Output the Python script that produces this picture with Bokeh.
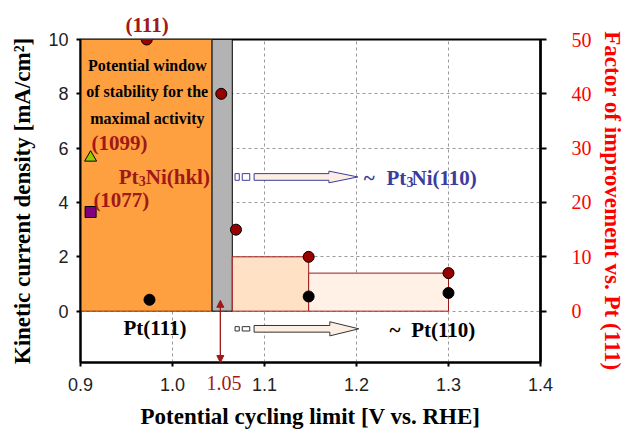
from bokeh.plotting import figure
from bokeh.models import (Range1d, LinearAxis, Label, Arrow, NormalHead, FixedTicker,
                          Title, PrintfTickFormatter)
from bokeh.embed import file_html
from bokeh.resources import INLINE

# ---------------- data ----------------
# Pt3Ni(111): factor of improvement vs. Pt(111) (right axis)
pt3ni_x = [0.972, 1.053, 1.069, 1.148, 1.300]
pt3ni_factor = [50, 40, 15, 10, 7]
# Pt(111): kinetic current density (left axis)
pt111_x = [0.975, 1.148, 1.300]
pt111_j = [0.42, 0.54, 0.67]
# Pt3Ni(1099) and Pt3Ni(1077)
pt3ni_1099_x = [0.911]
pt3ni_1099_j = [5.65]
pt3ni_1077_x = [0.911]
pt3ni_1077_j = [3.65]

# stability windows (factor units)
window_left = [0.900, 1.043, 1.065, 1.148]
window_right = [1.043, 1.065, 1.148, 1.300]
window_top_factor = [50, 50, 10, 7]
window_fill = ["#FFA040", "#B3B3B3", "#FFE2C6", "#FFF1E6"]
window_line = ["#8B2A00", "#000000", "#A01818", "#A01818"]

x_ticks = [0.9, 1.0, 1.1, 1.2, 1.3, 1.4]
j_ticks = [0, 2, 4, 6, 8, 10]
factor_ticks = [0, 10, 20, 30, 40, 50]
cycling_limit_tick = [1.056]
cycling_limit_text = "1.05"
cycling_limit_x = 1.052

DARKRED = "#A01818"
BLUE = "#3C3C9C"
SERIF = "Liberation Serif"
SANS = "Liberation Sans"

W, H = 627, 432
Y0, Y1 = -1.89, 10
p = figure(width=W, height=H,
           x_range=Range1d(0.9, 1.4), y_range=Range1d(Y0, Y1),
           output_backend="svg", toolbar_location=None,
           min_border_left=80, min_border_right=81,
           min_border_top=39, min_border_bottom=70)
p.extra_y_ranges = {"factor": Range1d(Y0 * 5, Y1 * 5)}
p.background_fill_color = "white"
p.border_fill_color = "white"
p.outline_line_color = "black"
p.outline_line_width = 2

# "(111)" label above the frame
p.add_layout(Title(text="(111)", align="left", offset=45, standoff=6,
                   text_font=SERIF, text_font_size="21px", text_font_style="bold",
                   text_color=DARKRED), "above")

# grid
p.xgrid.ticker = FixedTicker(ticks=[1.0, 1.1, 1.2, 1.3])
p.ygrid.ticker = FixedTicker(ticks=[0, 2, 4, 6, 8])
for g in (p.xgrid, p.ygrid):
    g.grid_line_color = "#9a9a9a"
    g.grid_line_dash = "3 3"
    g.grid_line_width = 1

# bottom axis
xa = p.xaxis[0]
xa.ticker = FixedTicker(ticks=x_ticks)
xa.formatter = PrintfTickFormatter(format="%.1f")
xa.axis_label = "Potential cycling limit [V vs. RHE]"
xa.axis_label_text_font = SERIF
xa.axis_label_text_font_style = "bold"
xa.axis_label_text_font_size = "23px"
xa.axis_label_text_color = "black"
xa.axis_label_standoff = 10
xa.major_label_text_font = SANS
xa.major_label_text_font_size = "18px"
xa.major_label_text_color = "#222222"
xa.major_label_standoff = 11
xa.major_tick_out = 4
xa.major_tick_in = 0
xa.minor_tick_out = 0
xa.minor_tick_in = 0
xa.axis_line_width = 2
xa.major_tick_line_width = 2

# extra "1.05" tick label: a second bottom axis pulled back up under the main one
la = LinearAxis(ticker=FixedTicker(ticks=cycling_limit_tick),
                major_label_overrides={cycling_limit_tick[0]: cycling_limit_text})
la.axis_line_color = None
la.major_tick_line_color = None
la.minor_tick_line_color = None
la.major_tick_out = 0
la.major_tick_in = 0
la.minor_tick_out = 0
la.minor_tick_in = 0
la.major_label_standoff = -56
la.major_label_text_font = SERIF
la.major_label_text_font_size = "20px"
la.major_label_text_color = DARKRED
p.add_layout(la, "below")

# left axis
ya = p.yaxis[0]
ya.ticker = FixedTicker(ticks=j_ticks)
ya.axis_label = "Kinetic current density [mA/cm²]"
ya.axis_label_text_font = SERIF
ya.axis_label_text_font_style = "bold"
ya.axis_label_text_font_size = "23px"
ya.axis_label_text_color = "black"
ya.axis_label_standoff = 10
ya.major_label_text_font = SANS
ya.major_label_text_font_size = "18px"
ya.major_label_text_color = "#222222"
ya.major_label_standoff = 8
ya.major_tick_out = 4
ya.major_tick_in = 0
ya.minor_tick_out = 0
ya.minor_tick_in = 0
ya.axis_line_width = 2
ya.major_tick_line_width = 2

# right axis
ra = LinearAxis(y_range_name="factor", ticker=FixedTicker(ticks=factor_ticks))
ra.axis_label = "Factor of improvement vs. Pt (111)"
ra.axis_label_text_font = SERIF
ra.axis_label_text_font_style = "bold"
ra.axis_label_text_font_size = "23px"
ra.axis_label_text_color = "#FF0000"
ra.axis_label_standoff = 5
ra.major_label_text_font = SERIF
ra.major_label_text_font_size = "20px"
ra.major_label_text_color = "#FF0000"
ra.major_label_standoff = 25
ra.major_tick_out = 6
ra.major_tick_in = 0
ra.minor_tick_out = 0
ra.minor_tick_in = 0
ra.axis_line_width = 2.5
ra.major_tick_line_width = 2
p.add_layout(ra, "right")

# windows
p.quad(left=window_left, right=window_right, bottom=0, top=window_top_factor,
       y_range_name="factor", fill_color=window_fill, line_color=window_line,
       line_width=1)


# block arrows
def block_arrow(x0, x1, yc, half_shaft, half_head, head_len, sq_half, line_color):
    sq = [(x0, x0 + 0.0046), (x0 + 0.0078, x0 + 0.016)]
    p.quad(left=[s[0] for s in sq], right=[s[1] for s in sq],
           bottom=yc - sq_half, top=yc + sq_half,
           fill_color="white", line_color=line_color, line_width=1)
    xs0 = x0 + 0.0207
    xh = x1 - head_len
    xs = [xs0, xh, xh, x1, xh, xh, xs0]
    ys = [yc - half_shaft, yc - half_shaft, yc - half_head, yc,
          yc + half_head, yc + half_shaft, yc + half_shaft]
    p.patch(xs, ys, fill_color="#FDEEE4", line_color=line_color, line_width=1)


block_arrow(1.068, 1.2015, 4.94, 0.123, 0.215, 0.0315, 0.123, BLUE)
block_arrow(1.068, 1.2025, -0.65, 0.123, 0.26, 0.0315, 0.08, "#333333")

# points
p.scatter(pt3ni_x, pt3ni_factor, y_range_name="factor", marker="circle",
          size=11, fill_color="#990000", line_color="black", line_width=1)
p.scatter(pt111_x, pt111_j, marker="circle", size=11,
          fill_color="black", line_color="black")
p.scatter(pt3ni_1099_x, pt3ni_1099_j, marker="triangle", size=12,
          fill_color="#99CC00", line_color="black", line_width=1)
p.scatter(pt3ni_1077_x, pt3ni_1077_j, marker="square", size=11,
          fill_color="#800080", line_color="black", line_width=1)

# vertical arrow at cycling limit
head = dict(size=7, fill_color=DARKRED, line_color=DARKRED)
p.add_layout(Arrow(x_start=cycling_limit_x, y_start=Y0,
                   x_end=cycling_limit_x, y_end=0.40,
                   start=NormalHead(**head), end=NormalHead(**head),
                   line_color=DARKRED, line_width=1.3))


def lab(x, y, text, color, size, align="left", x_offset=0, y_offset=0, bold=True):
    p.add_layout(Label(x=x, y=y, text=text, text_color=color,
                       text_font=SERIF, text_font_size=size,
                       text_font_style="bold" if bold else "normal",
                       text_align=align, text_baseline="alphabetic",
                       x_offset=x_offset, y_offset=y_offset + 5))


# window text
lab(0.9727, 8.87, "Potential window", "black", "16px", align="center")
lab(0.9727, 7.89, "of stability for the", "black", "16px", align="center")
lab(0.9727, 6.91, "maximal activity", "black", "16px", align="center")

lab(0.912, 5.99, "(1099)", DARKRED, "21px")
lab(0.914, 3.90, "(1077)", DARKRED, "21px")
lab(0.9416, 4.76, "Pt", DARKRED, "21px")
lab(0.9416, 4.76, "3", DARKRED, "14px", x_offset=20, y_offset=-4)
lab(0.9416, 4.76, "Ni(hkl)", DARKRED, "21px", x_offset=27)

lab(0.981, -0.82, "Pt(111)", "black", "21px", align="center")
lab(1.2359, -0.88, "~", "black", "21px")
lab(1.2594, -0.88, "Pt(110)", "black", "21px")

lab(1.2079, 4.72, "~", BLUE, "21px")
lab(1.2326, 4.72, "Pt", BLUE, "21px")
lab(1.2326, 4.72, "3", BLUE, "14px", x_offset=20, y_offset=-4)
lab(1.2326, 4.72, "Ni(110)", BLUE, "21px", x_offset=25)

open("out.html", "w").write(file_html(p, INLINE))
